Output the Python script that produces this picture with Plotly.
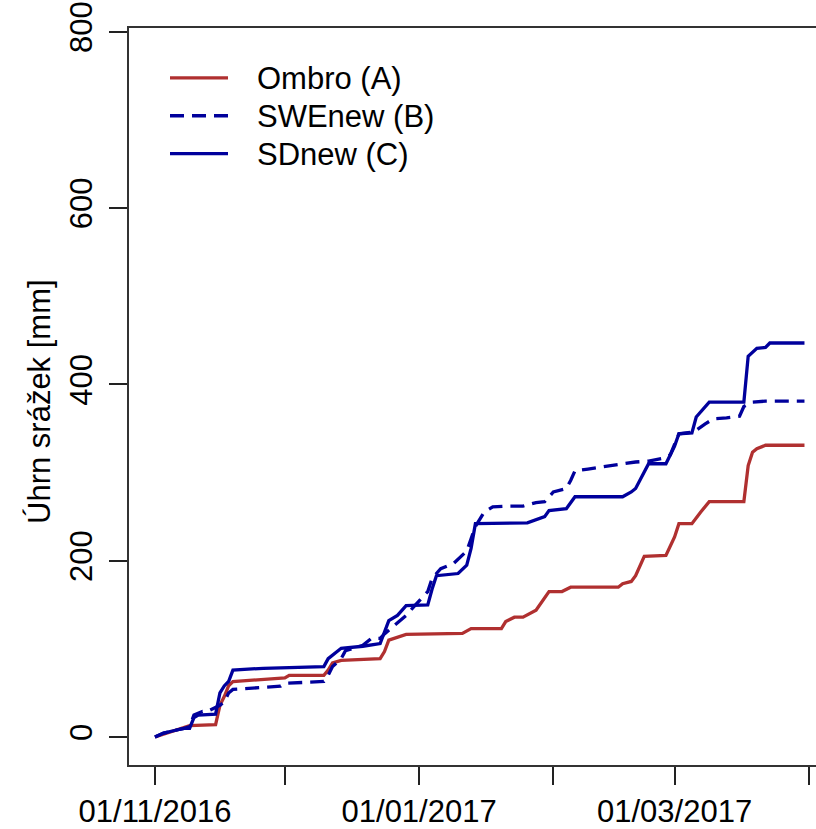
import plotly.graph_objects as go

# Cumulative precipitation totals, winter 2016/2017
ombro_dates = [
    "2016-11-01", "2016-11-04", "2016-11-07", "2016-11-09", "2016-11-15", "2016-11-16",
    "2016-11-17", "2016-11-18", "2016-11-19", "2016-12-01", "2016-12-02", "2016-12-10",
    "2016-12-11", "2016-12-12", "2016-12-14", "2016-12-23", "2016-12-24", "2016-12-25",
    "2016-12-29", "2017-01-11", "2017-01-13", "2017-01-20", "2017-01-21", "2017-01-23",
    "2017-01-25", "2017-01-28", "2017-01-31", "2017-02-03", "2017-02-05", "2017-02-16",
    "2017-02-17", "2017-02-19", "2017-02-20", "2017-02-22", "2017-02-27", "2017-02-28",
    "2017-03-01", "2017-03-02", "2017-03-05", "2017-03-07", "2017-03-09", "2017-03-17",
    "2017-03-18", "2017-03-19", "2017-03-20", "2017-03-22", "2017-03-31",
]
ombro_mm = [
    0, 5, 9, 13, 14, 36,
    46, 58, 63, 67, 70, 70,
    76, 84, 87, 89, 97, 110,
    116.5, 117.6, 123, 123, 131, 136,
    136, 144, 165, 165, 170, 170,
    174, 176.5, 183, 205, 206, 217,
    227, 242, 242, 255, 267, 267,
    308, 323, 327, 331, 331,
]

swe_dates = [
    "2016-11-01", "2016-11-03", "2016-11-06", "2016-11-08", "2016-11-09", "2016-11-10",
    "2016-11-12", "2016-11-13", "2016-11-16", "2016-11-17", "2016-11-18", "2016-11-19",
    "2016-11-30", "2016-12-01", "2016-12-10", "2016-12-11", "2016-12-12", "2016-12-14",
    "2016-12-15", "2016-12-19", "2016-12-21", "2016-12-23", "2016-12-24", "2016-12-27",
    "2016-12-29", "2016-12-31", "2017-01-01", "2017-01-03", "2017-01-04", "2017-01-06",
    "2017-01-09", "2017-01-12", "2017-01-13", "2017-01-14", "2017-01-16", "2017-01-18",
    "2017-01-22", "2017-01-25", "2017-01-28", "2017-01-30", "2017-02-01", "2017-02-04",
    "2017-02-05", "2017-02-06", "2017-02-09", "2017-02-12", "2017-02-15", "2017-02-18",
    "2017-02-20", "2017-02-23", "2017-02-26", "2017-02-28", "2017-03-01", "2017-03-02",
    "2017-03-05", "2017-03-06", "2017-03-08", "2017-03-10", "2017-03-13", "2017-03-16",
    "2017-03-17", "2017-03-19", "2017-03-22", "2017-03-31",
]
swe_mm = [
    0, 4.5, 8, 10, 12, 25,
    29, 29, 36, 40, 50, 54,
    57.7, 61, 63, 70, 80, 89,
    98, 104, 112, 112, 117, 129,
    138, 149, 154, 165, 180, 191,
    197, 211, 225, 239, 255, 261,
    262, 262, 266, 267, 278, 282,
    291, 302, 304, 306, 308, 310,
    312, 313, 316, 320, 333, 344,
    346, 348, 355, 361, 362, 364,
    375, 380, 381, 381,
]

sd_dates = [
    "2016-11-01", "2016-11-03", "2016-11-06", "2016-11-08", "2016-11-09", "2016-11-10",
    "2016-11-11", "2016-11-15", "2016-11-16", "2016-11-17", "2016-11-18", "2016-11-19",
    "2016-11-26", "2016-12-10", "2016-12-11", "2016-12-14", "2016-12-19", "2016-12-23",
    "2016-12-25", "2016-12-27", "2016-12-29", "2017-01-03", "2017-01-04", "2017-01-05",
    "2017-01-10", "2017-01-12", "2017-01-13", "2017-01-14", "2017-01-26", "2017-01-30",
    "2017-01-31", "2017-02-04", "2017-02-06", "2017-02-17", "2017-02-19", "2017-02-20",
    "2017-02-23", "2017-02-27", "2017-03-01", "2017-03-02", "2017-03-05", "2017-03-06",
    "2017-03-09", "2017-03-17", "2017-03-18", "2017-03-20", "2017-03-22", "2017-03-23",
    "2017-03-31",
]
sd_mm = [
    0, 4.5, 8, 10, 10, 22,
    25, 26, 50, 58, 63, 76,
    78, 80, 89, 100.7, 103, 106,
    132, 138, 149, 150, 168, 183,
    185.5, 195, 214, 242, 243, 250,
    257, 259, 272.6, 272.6, 278, 282,
    310, 310, 330, 344, 345, 363,
    380, 380, 432, 441, 442, 447,
    447,
]

series_names = ["Ombro (A)", "SWEnew (B)", "SDnew (C)"]
series_colors = ["#B03030", "#00009C", "#00009C"]
series_dashes = ["solid", "14px,8px", "solid"]

x_tick_dates = ["2016-11-01", "2016-12-01", "2017-01-01", "2017-02-01", "2017-03-01", "2017-04-01"]
x_tick_labels = ["01/11/2016", "", "01/01/2017", "", "01/03/2017", ""]
y_ticks = [0, 200, 400, 600, 800]

FONT = "Liberation Sans, Arial, sans-serif"
FS = 31
W, H = 816, 829
L, R, T, B = 129, 0, 28, 62
PW, PH = W - L - R, H - T - B


def px_x(px):
    return (px - L) / PW


def px_y(py):
    return (H - B - py) / PH


fig = go.Figure()
for dates, vals, name, color, dash in zip(
    [ombro_dates, swe_dates, sd_dates],
    [ombro_mm, swe_mm, sd_mm],
    series_names, series_colors, series_dashes,
):
    fig.add_trace(go.Scatter(
        x=dates, y=vals, mode="lines", name=name,
        line=dict(color=color, width=3.3, dash=dash),
        showlegend=False,
    ))

# Legend drawn as line samples with text labels
legend_rows = [78, 116, 154]
shapes = []
annotations = []
for row_y, name, color, dash in zip(legend_rows, series_names, series_colors, series_dashes):
    shapes.append(dict(
        type="line", xref="paper", yref="paper",
        x0=px_x(170), x1=px_x(228), y0=px_y(row_y), y1=px_y(row_y),
        line=dict(color=color, width=3.3, dash=dash),
    ))
    annotations.append(dict(
        xref="paper", yref="paper", x=px_x(255), y=px_y(row_y + 1),
        xanchor="left", yanchor="middle", showarrow=False,
        text=name, font=dict(family=FONT, size=FS, color="black"),
    ))

annotations.append(dict(
    xref="paper", yref="paper", x=px_x(40), y=px_y(403),
    xanchor="center", yanchor="middle", showarrow=False, textangle=-90,
    text="Úhrn srážek [mm]", font=dict(family=FONT, size=FS, color="black"),
))

fig.update_layout(
    width=W, height=H,
    margin=dict(l=L, r=R, t=T, b=B, pad=0),
    paper_bgcolor="white", plot_bgcolor="white",
    font=dict(family=FONT, size=FS, color="black"),
    shapes=shapes, annotations=annotations,
    xaxis=dict(
        type="date",
        range=["2016-10-26", "2017-04-02 15:50"],
        tickvals=x_tick_dates, ticktext=x_tick_labels,
        ticks="outside", ticklen=18, tickwidth=1.5, tickcolor="#222",
        showline=True, linecolor="#333", linewidth=2, mirror=True,
        showgrid=False, zeroline=False,
        tickfont=dict(family=FONT, size=FS, color="black"),
    ),
    yaxis=dict(
        range=[-31.7, 804.3],
        tickvals=y_ticks, ticktext=[str(v) for v in y_ticks],
        tickangle=-90, ticklabelstandoff=5,
        ticks="outside", ticklen=18, tickwidth=1.5, tickcolor="#222",
        showline=True, linecolor="#333", linewidth=2, mirror=False,
        showgrid=False, zeroline=False,
        tickfont=dict(family=FONT, size=FS, color="black"),
    ),
)

fig.write_html("out.html")
